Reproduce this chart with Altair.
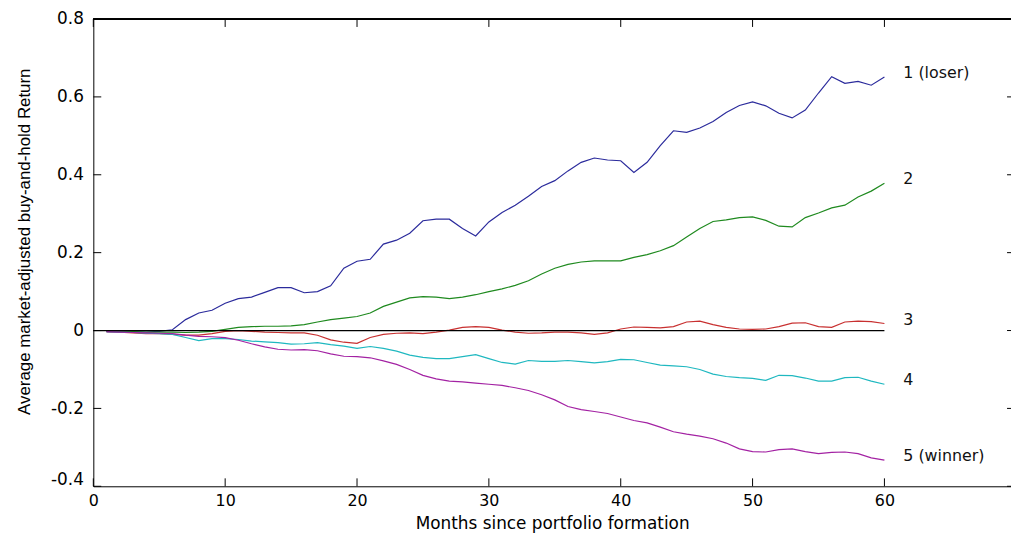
import altair as alt
import pandas as pd

# ---------------- data ----------------
months = list(range(1, 61))
series_names = ["1 (loser)", "2", "3", "4", "5 (winner)"]
series_colors = ["#2b2b9c", "#1f8a1f", "#c83030", "#1fb8c0", "#a322a3"]

loser = [-0.003, -0.003, -0.003, -0.004, -0.002, 0.002, 0.028, 0.045, 0.052, 0.070,
         0.082, 0.086, 0.098, 0.110, 0.110, 0.097, 0.100, 0.115, 0.160, 0.178,
         0.183, 0.222, 0.232, 0.250, 0.282, 0.286, 0.286, 0.262, 0.243, 0.279,
         0.303, 0.322, 0.345, 0.370, 0.385, 0.410, 0.432, 0.443, 0.438, 0.436,
         0.406, 0.432, 0.475, 0.513, 0.509, 0.520, 0.537, 0.560, 0.578, 0.587,
         0.577, 0.558, 0.546, 0.566, 0.610, 0.652, 0.635, 0.640, 0.630, 0.651]
p2 = [-0.002, -0.003, -0.003, -0.004, -0.004, -0.004, -0.005, -0.004, -0.002, 0.003,
      0.008, 0.010, 0.011, 0.011, 0.012, 0.015, 0.022, 0.028, 0.032, 0.036,
      0.045, 0.062, 0.073, 0.084, 0.087, 0.086, 0.082, 0.086, 0.092, 0.100,
      0.107, 0.116, 0.128, 0.145, 0.160, 0.170, 0.176, 0.179, 0.179, 0.179,
      0.188, 0.195, 0.205, 0.218, 0.240, 0.262, 0.280, 0.284, 0.290, 0.292,
      0.283, 0.268, 0.266, 0.290, 0.302, 0.315, 0.322, 0.343, 0.358, 0.378]
p3 = [-0.003, -0.004, -0.006, -0.008, -0.008, -0.010, -0.012, -0.012, -0.008, -0.002,
      0.000, -0.002, -0.004, -0.005, -0.006, -0.006, -0.012, -0.024, -0.030, -0.033,
      -0.018, -0.010, -0.007, -0.006, -0.008, -0.004, 0.001, 0.008, 0.010, 0.008,
      0.001, -0.004, -0.007, -0.006, -0.004, -0.004, -0.006, -0.010, -0.006, 0.004,
      0.009, 0.008, 0.007, 0.010, 0.022, 0.024, 0.015, 0.008, 0.004, 0.003,
      0.004, 0.010, 0.019, 0.020, 0.010, 0.008, 0.022, 0.024, 0.023, 0.018]
p4 = [-0.003, -0.004, -0.005, -0.007, -0.008, -0.010, -0.018, -0.026, -0.021, -0.021,
      -0.023, -0.027, -0.029, -0.031, -0.035, -0.034, -0.031, -0.036, -0.040, -0.046,
      -0.041, -0.046, -0.053, -0.063, -0.069, -0.072, -0.072, -0.067, -0.062, -0.072,
      -0.082, -0.086, -0.077, -0.079, -0.079, -0.077, -0.080, -0.083, -0.080, -0.074,
      -0.075, -0.082, -0.089, -0.091, -0.093, -0.100, -0.112, -0.118, -0.121, -0.123,
      -0.128, -0.115, -0.116, -0.122, -0.130, -0.130, -0.121, -0.120, -0.130, -0.138]
winner = [-0.003, -0.004, -0.005, -0.006, -0.007, -0.008, -0.012, -0.015, -0.016, -0.018,
          -0.025, -0.034, -0.042, -0.048, -0.050, -0.049, -0.052, -0.060, -0.066, -0.067,
          -0.070, -0.078, -0.087, -0.100, -0.115, -0.124, -0.130, -0.132, -0.135, -0.138,
          -0.141, -0.147, -0.154, -0.165, -0.178, -0.195, -0.203, -0.208, -0.213, -0.222,
          -0.231, -0.237, -0.248, -0.260, -0.266, -0.271, -0.278, -0.289, -0.304, -0.311,
          -0.312, -0.306, -0.304, -0.311, -0.316, -0.313, -0.312, -0.316, -0.327, -0.333]

zero_months = [0, 60]
zero_values = [0, 0]

x_ticks = [0, 10, 20, 30, 40, 50, 60]
y_ticks = [-0.4, -0.2, 0.0, 0.2, 0.4, 0.6, 0.8]

x_title = "Months since portfolio formation"
y_title = "Average market-adjusted buy-and-hold Return"

# ---------------- tables ----------------
all_series = [loser, p2, p3, p4, winner]
rows = []
for name, vals in zip(series_names, all_series):
    for m, v in zip(months, vals):
        rows.append({"month": m, "value": v, "series": name})
df = pd.DataFrame(rows)
df_end = df[df["month"] == months[-1]]
df_zero = pd.DataFrame({"month": zero_months, "value": zero_values})
df_xt = pd.DataFrame({"t": x_ticks})
df_yt = pd.DataFrame({"t": y_ticks})

W, H = 925, 471
X_MAX = 69.6
xs = alt.Scale(domain=[0, X_MAX], nice=False, zero=False)
ys = alt.Scale(domain=[-0.4, 0.8], nice=False, zero=False)
FONT = "DejaVu Sans"

X_AXIS = alt.Axis(
    values=x_ticks, ticks=False, grid=False, domainColor="black", domainWidth=1,
    labelFont=FONT, labelFontSize=16, labelColor="black", labelPadding=6,
    labelFlush=False,
    title=x_title, titleFont=FONT, titleFontSize=17, titleFontWeight="normal",
    titleColor="black", titleY=43, titleBaseline="alphabetic")
Y_AXIS = alt.Axis(
    values=y_ticks, ticks=False, grid=False, domainColor="black", domainWidth=1,
    labelFont=FONT, labelFontSize=17, labelColor="black", labelPadding=10,
    labelFlush=False,
    labelExpr="datum.value == 0 ? '0' : (datum.value < 0 ? '-' + format(-datum.value, '.1f') : format(datum.value, '.1f'))",
    labelOffset={"condition": {"test": "datum.value < -0.35", "value": -7}, "value": 0},
    title=y_title, titleFont="Liberation Sans", titleFontSize=17, titleFontWeight="normal",
    titleColor="black", titleX=-64, titleY=224, titleBaseline="alphabetic", titleAlign="center")

color = alt.Color("series:N", scale=alt.Scale(domain=series_names, range=series_colors), legend=None)

lines = alt.Chart(df).mark_line(strokeWidth=1.2).encode(
    x=alt.X("month:Q", scale=xs, axis=X_AXIS),
    y=alt.Y("value:Q", scale=ys, axis=Y_AXIS),
    color=color,
    detail="series:N",
)

zero = alt.Chart(df_zero).mark_line(color="black", strokeWidth=1.2).encode(
    x=alt.X("month:Q", scale=xs, axis=X_AXIS),
    y=alt.Y("value:Q", scale=ys, axis=Y_AXIS),
)

labels = alt.Chart(df_end).mark_text(
    align="left", baseline="middle", dx=19, dy=-4, font=FONT, fontSize=16, color="#111"
).encode(
    x=alt.X("month:Q", scale=xs, axis=X_AXIS),
    y=alt.Y("value:Q", scale=ys, axis=Y_AXIS),
    text="series:N",
)

tick_len = 8
bottom_ticks = alt.Chart(df_xt).mark_rule(color="black").encode(
    x=alt.X("t:Q", scale=xs, axis=X_AXIS), y=alt.value(H), y2=alt.value(H - tick_len))
top_ticks = alt.Chart(df_xt).mark_rule(color="black").encode(
    x=alt.X("t:Q", scale=xs, axis=X_AXIS), y=alt.value(0), y2=alt.value(tick_len))
left_ticks = alt.Chart(df_yt).mark_rule(color="black").encode(
    y=alt.Y("t:Q", scale=ys, axis=Y_AXIS), x=alt.value(0), x2=alt.value(tick_len))
right_ticks = alt.Chart(df_yt).mark_rule(color="black").encode(
    y=alt.Y("t:Q", scale=ys, axis=Y_AXIS), x=alt.value(W - 4), x2=alt.value(W))
top_line = alt.Chart(df_xt).mark_rule(color="black", strokeWidth=1).encode(
    x=alt.value(0), x2=alt.value(W), y=alt.value(0))

chart = alt.layer(
    lines, zero, labels, bottom_ticks, top_ticks, left_ticks, right_ticks, top_line
).properties(
    width=W, height=H,
    autosize=alt.AutoSizeParams(type="none"),
    padding={"left": 86, "top": 9, "right": 0, "bottom": 48},
    background="white",
).configure_view(stroke=None)

chart.save("out.html", embed_options={"renderer": "svg", "actions": False})
